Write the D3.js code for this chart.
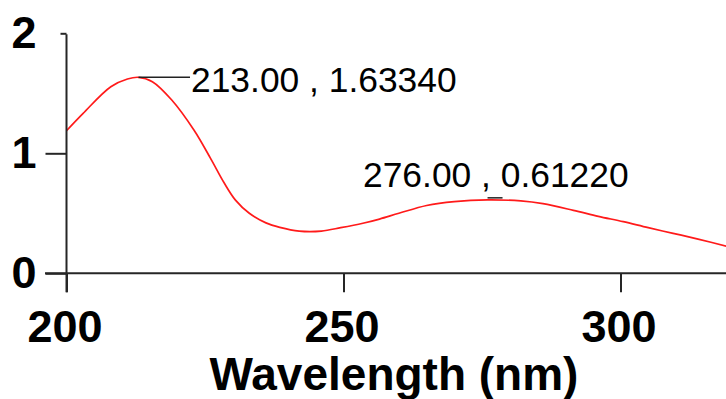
<!DOCTYPE html>
<html>
<head>
<meta charset="utf-8">
<script src="https://cdn.jsdelivr.net/npm/d3@7/dist/d3.min.js"></script>
<style>
  html, body { margin: 0; padding: 0; background: #fff; }
  svg { display: block; }
  .tick text { font-family: "Liberation Sans", Arial, sans-serif; font-weight: bold; font-size: 45px; fill: #000; }
</style>
</head>
<body>
<svg id="chart" width="726" height="399"></svg>
<script>
// UV absorption spectrum
const wavelength = [200, 203, 208, 211, 213, 215.5, 219, 223, 226, 228.5, 230.5, 233, 236, 238.5, 242, 246, 249.5, 253.5, 256.5, 260, 265, 270, 276, 282, 286, 291.5, 296, 300.5, 305, 309.5, 314, 319.5];
const absorbance = [1.188, 1.333, 1.555, 1.619, 1.6334, 1.597, 1.444, 1.194, 0.958, 0.75, 0.61, 0.50, 0.42, 0.383, 0.352, 0.352, 0.38, 0.417, 0.452, 0.50, 0.565, 0.598, 0.6122, 0.603, 0.58, 0.525, 0.475, 0.43, 0.38, 0.333, 0.285, 0.222];

const xTicks = [200, 250, 300];
const yTicks = [0, 1, 2];

// labelled peaks
const peakWavelength = [213, 276];
const peakAbsorbance = [1.6334, 0.6122];

const xTitle = "Wavelength (nm)";

const svg = d3.select("#chart");
const font = '"Liberation Sans", Arial, sans-serif';
const axisColor = "#262626";

const x = d3.scaleLinear().domain([200, 320]).range([66.5, 731.3]);
const y = d3.scaleLinear().domain([0, 2]).range([273.3, 33.3]);

// spectrum trace
const points = wavelength.map((w, i) => [w, absorbance[i]]);
const line = d3.line()
  .x(d => x(d[0]))
  .y(d => y(d[1]))
  .curve(d3.curveCatmullRom.alpha(0.5));

svg.append("path")
  .datum(points)
  .attr("d", line)
  .attr("fill", "none")
  .attr("stroke", "#ff1a1a")
  .attr("stroke-width", 1.7);

// x axis
const xAxis = d3.axisBottom(x)
  .tickValues(xTicks)
  .tickSize(19)
  .tickPadding(18)
  .tickFormat(d3.format("d"));

const gx = svg.append("g")
  .attr("transform", `translate(0,${y(0)})`)
  .call(xAxis);
gx.select(".domain").remove();
gx.selectAll(".tick line").attr("stroke", axisColor).attr("stroke-width", 2);
gx.selectAll(".tick text").attr("dx", "-2");

// baseline spans from the y tick area to the right edge
svg.append("line")
  .attr("x1", 45).attr("x2", 726)
  .attr("y1", y(0)).attr("y2", y(0))
  .attr("stroke", axisColor).attr("stroke-width", 2);

// y axis
const yAxis = d3.axisLeft(y)
  .tickValues(yTicks)
  .tickSize(21)
  .tickPadding(9)
  .tickFormat(d3.format("d"));

const gy = svg.append("g")
  .attr("transform", `translate(${x(200)},0)`)
  .call(yAxis);
gy.select(".domain").remove();
gy.selectAll(".tick line").attr("stroke", axisColor).attr("stroke-width", 2);
// the top tick stops short of the axis line
gy.selectAll(".tick").filter(d => d === 2).select("line").attr("x2", -6);

svg.append("line")
  .attr("x1", x(200)).attr("x2", x(200))
  .attr("y1", y(2) + 1).attr("y2", y(0) + 19)
  .attr("stroke", axisColor).attr("stroke-width", 2);

// axis title
svg.append("text")
  .attr("x", 394)
  .attr("y", 390)
  .attr("text-anchor", "middle")
  .attr("font-family", font)
  .attr("font-weight", "bold")
  .attr("font-size", 46)
  .attr("fill", "#000")
  .text(xTitle);

// peak annotations
const fmt = (w, a) => `${w.toFixed(2)} , ${a.toFixed(5)}`;

// first peak: leader to the right
svg.append("line")
  .attr("x1", x(peakWavelength[0])).attr("x2", 190)
  .attr("y1", y(peakAbsorbance[0])).attr("y2", y(peakAbsorbance[0]))
  .attr("stroke", "#222").attr("stroke-width", 1.5);
svg.append("text")
  .attr("x", 191)
  .attr("y", 92)
  .attr("font-family", font)
  .attr("font-size", 35.4)
  .attr("fill", "#000")
  .text(fmt(peakWavelength[0], peakAbsorbance[0]));

// second peak: short marker, label above
svg.append("line")
  .attr("x1", x(peakWavelength[1])).attr("x2", x(peakWavelength[1]) + 15)
  .attr("y1", y(peakAbsorbance[1]) - 2).attr("y2", y(peakAbsorbance[1]) - 2)
  .attr("stroke", "#222").attr("stroke-width", 1.5);
svg.append("text")
  .attr("x", 363)
  .attr("y", 187)
  .attr("font-family", font)
  .attr("font-size", 35.4)
  .attr("fill", "#000")
  .text(fmt(peakWavelength[1], peakAbsorbance[1]));
</script>
</body>
</html>
